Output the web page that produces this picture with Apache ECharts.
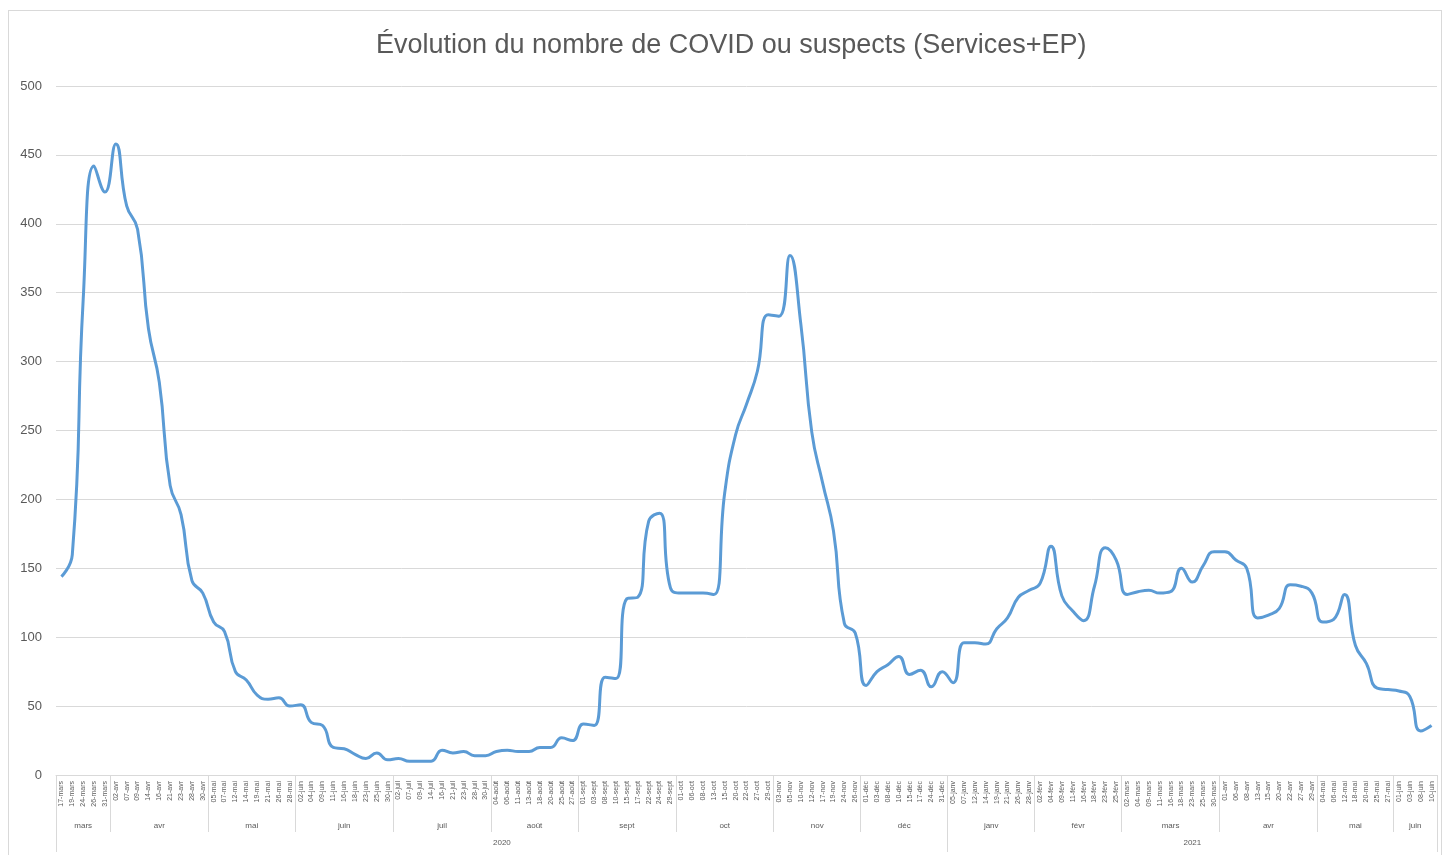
<!DOCTYPE html>
<html>
<head>
<meta charset="utf-8">
<script src="https://cdn.jsdelivr.net/npm/echarts@6/dist/echarts.min.js"></script>
<style>
html,body{margin:0;padding:0;background:#fff;}
#chart{position:absolute;left:0;top:0;width:1447px;height:855px;}
#frame{position:absolute;left:8px;top:10px;width:1432px;height:860px;border:1px solid #d9d9d9;pointer-events:none;}
</style>
</head>
<body>
<div id="chart"></div>
<div id="frame"></div>
<script>
const titleText = 'Évolution du nombre de COVID ou suspects (Services+EP)';

const dates = [
  '17-mars','19-mars','24-mars','26-mars','31-mars',
  '02-avr','07-avr','09-avr','14-avr','16-avr','21-avr','23-avr','28-avr','30-avr',
  '05-mai','07-mai','12-mai','14-mai','19-mai','21-mai','26-mai','28-mai',
  '02-juin','04-juin','09-juin','11-juin','16-juin','18-juin','23-juin','25-juin','30-juin',
  '02-juil','07-juil','09-juil','14-juil','16-juil','21-juil','23-juil','28-juil','30-juil',
  '04-août','06-août','11-août','13-août','18-août','20-août','25-août','27-août',
  '01-sept','03-sept','08-sept','10-sept','15-sept','17-sept','22-sept','24-sept','29-sept',
  '01-oct','06-oct','08-oct','13-oct','15-oct','20-oct','22-oct','27-oct','29-oct',
  '03-nov','05-nov','10-nov','12-nov','17-nov','19-nov','24-nov','26-nov',
  '01-déc','03-déc','08-déc','10-déc','15-déc','17-déc','24-déc','31-déc',
  '05-janv','07-janv','12-janv','14-janv','19-janv','21-janv','26-janv','28-janv',
  '02-févr','04-févr','09-févr','11-févr','16-févr','18-févr','23-févr','25-févr',
  '02-mars','04-mars','09-mars','11-mars','16-mars','18-mars','23-mars','25-mars','30-mars',
  '01-avr','06-avr','08-avr','13-avr','15-avr','20-avr','22-avr','27-avr','29-avr',
  '04-mai','06-mai','12-mai','18-mai','20-mai','25-mai','27-mai',
  '01-juin','03-juin','08-juin','10-juin'
];

const values = [
  144,160,345,442,423,
  458,413,396,324,285,210,189,141,132,
  111,104,75,69,58,55,56,50,
  51,38,36,20,19,15,12,16,11,
  12,10,10,10,18,16,17,14,14,
  17,18,17,17,20,20,27,25,
  37,36,71,70,128,129,184,190,136,
  132,132,132,131,205,247,269,293,334,
  333,377,327,249,212,177,110,103,
  65,75,80,86,73,76,64,75,
  67,96,96,95,106,114,129,134,
  139,166,130,119,112,137,165,156,
  131,133,134,132,133,150,140,152,162,
  162,156,150,114,116,121,138,137,132,
  111,113,131,94,81,63,62,
  61,57,32,36
];

const monthLabels = ['mars','avr','mai','juin','juil','août','sept','oct','nov','déc','janv','févr','mars','avr','mai','juin'];
const monthCounts = [5,9,8,9,9,8,9,9,8,8,8,8,9,9,7,4];
const yearLabels = ['2020','2021'];
const yearCounts = [82,45];

// group helpers: boundaries + label index (with half-band shift for even groups)
function groups(labels, counts) {
  const starts = new Set();
  const labelAt = {};
  let s = 0;
  labels.forEach((lab, k) => {
    const n = counts[k];
    starts.add(s);
    const idx = s + Math.floor((n - 1) / 2);
    labelAt[idx] = { text: lab, shift: n % 2 === 0 };
    s += n;
  });
  return { starts, labelAt };
}
const mg = groups(monthLabels, monthCounts);
const yg = groups(yearLabels, yearCounts);

const grey = '#595959';
const lineGrey = '#d9d9d9';
const font = 'Liberation Sans, Arial, sans-serif';

function groupAxis(g, margin, size, tickLen, showTicks) {
  return {
    type: 'category',
    data: dates,
    position: 'bottom',
    boundaryGap: true,
    axisLine: { show: false },
    axisTick: {
      show: showTicks,
      interval: (i) => g.starts.has(i),
      length: tickLen,
      lineStyle: { color: lineGrey, width: 1 }
    },
    axisLabel: {
      interval: (i) => g.labelAt[i] !== undefined,
      margin: margin,
      fontSize: size,
      fontFamily: font,
      color: grey,
      formatter: (v, i) => {
        const o = g.labelAt[i];
        if (!o) return '';
        return o.shift ? '{s|' + o.text + '}' : '{n|' + o.text + '}';
      },
      rich: {
        s: { padding: [0, 0, 0, 11], fontSize: size, fontFamily: font, color: grey },
        n: { fontSize: size, fontFamily: font, color: grey }
      }
    },
    splitLine: { show: false }
  };
}

const chart = echarts.init(document.getElementById('chart'), null, { renderer: 'canvas' });
chart.setOption({
  animation: false,
  backgroundColor: '#ffffff',
  title: {
    text: titleText,
    left: 376,
    top: 32,
    padding: 0,
    textStyle: { fontFamily: font, fontSize: 27, fontWeight: 'normal', color: grey }
  },
  grid: { left: 56, right: 10, top: 86, bottom: 80, containLabel: false },
  xAxis: [
    {
      type: 'category',
      data: dates,
      position: 'bottom',
      boundaryGap: true,
      axisLine: { show: true, lineStyle: { color: lineGrey, width: 1 } },
      axisTick: {
        show: true,
        interval: (i) => mg.starts.has(i),
        length: 57,
        lineStyle: { color: lineGrey, width: 1 }
      },
      axisLabel: {
        interval: 0,
        rotate: 90,
        margin: 6,
        fontSize: 7,
        fontFamily: font,
        color: grey
      },
      splitLine: { show: false }
    },
    groupAxis(mg, 47, 8, 57, false),
    groupAxis(yg, 64, 8, 77, true)
  ],
  yAxis: {
    type: 'value',
    min: 0,
    max: 500,
    interval: 50,
    axisLine: { show: false },
    axisTick: { show: false },
    axisLabel: { fontSize: 13, fontFamily: font, color: grey, margin: 14 },
    splitLine: { lineStyle: { color: lineGrey, width: 1 } }
  },
  series: [{
    type: 'line',
    xAxisIndex: 0,
    data: values,
    smooth: 0.5,
    showSymbol: false,
    lineStyle: { color: '#5b9bd5', width: 3 },
    itemStyle: { color: '#5b9bd5' }
  }]
});
</script>
</body>
</html>
